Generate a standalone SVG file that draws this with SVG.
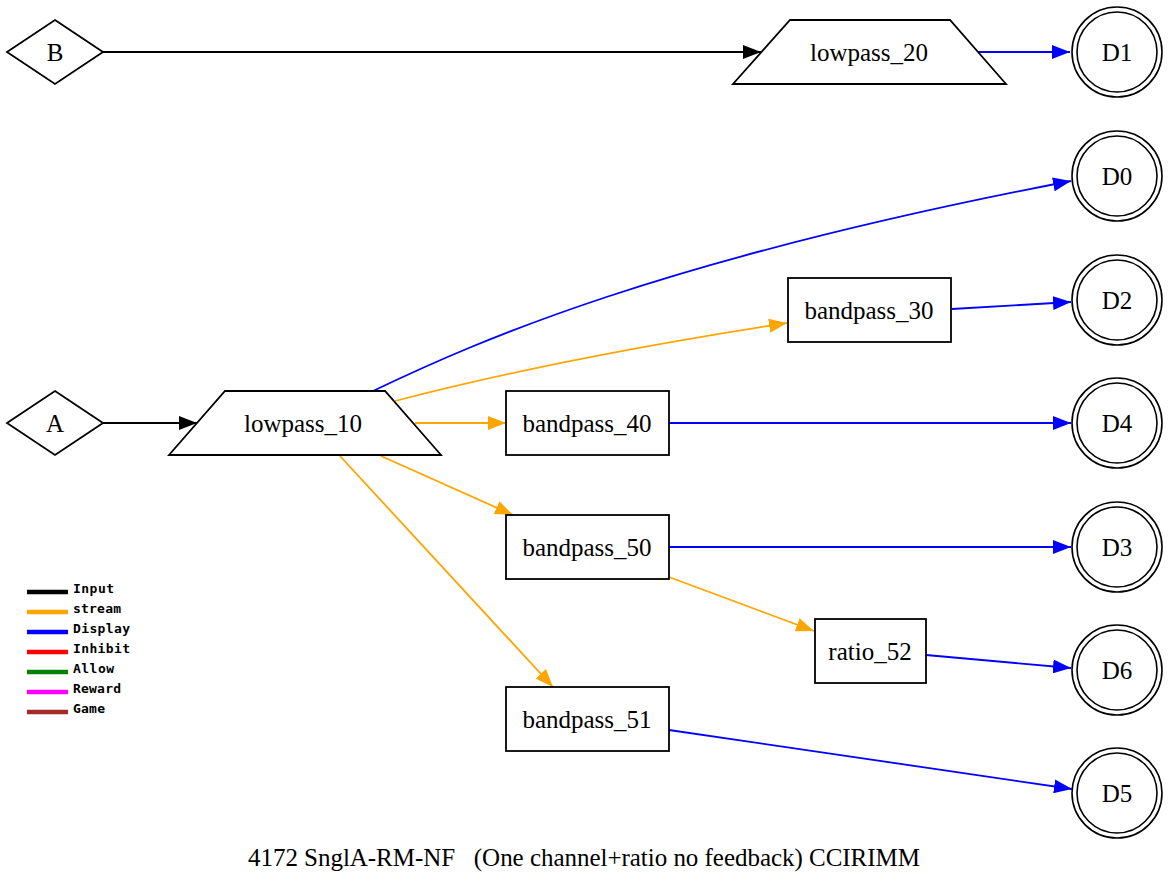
<svg xmlns="http://www.w3.org/2000/svg" width="1170" height="888" viewBox="0 0 1170 888">
<style>
.n{fill:#fff;stroke:#000;stroke-width:1.8}
.c{fill:none;stroke:#000;stroke-width:1.6}
.t{font-family:"Liberation Serif","Times New Roman",serif;font-size:25px;fill:#000;text-anchor:middle;dominant-baseline:central}
.e{fill:none;stroke-width:1.8}
.k{stroke:#000}.o{stroke:#FFA500}.b{stroke:#0000FF}
.lg{stroke-width:4.5}
.lt{font-family:"DejaVu Sans Mono","Liberation Mono",monospace;font-weight:bold;font-size:13px;fill:#000}
</style>
<defs>
<marker id="ak" markerUnits="userSpaceOnUse" markerWidth="18" markerHeight="14" refX="18" refY="7" orient="auto"><path d="M0,0L18,7L0,14z" fill="#000"/></marker>
<marker id="ao" markerUnits="userSpaceOnUse" markerWidth="18" markerHeight="14" refX="18" refY="7" orient="auto"><path d="M0,0L18,7L0,14z" fill="#FFA500"/></marker>
<marker id="ab" markerUnits="userSpaceOnUse" markerWidth="18" markerHeight="14" refX="18" refY="7" orient="auto"><path d="M0,0L18,7L0,14z" fill="#0000FF"/></marker>
</defs>
<rect width="1170" height="888" fill="#fff"/>
<g id="connectors">
<path class="e k" d="M103,52L761,52" marker-end="url(#ak)"/>
<path class="e b" d="M978,52L1070,52" marker-end="url(#ab)"/>
<path class="e k" d="M103,423L197,423" marker-end="url(#ak)"/>
<path class="e b" d="M373,391C480,340 660,260 1071,181" marker-end="url(#ab)"/>
<path class="e o" d="M395,401Q560,358 787,323" marker-end="url(#ao)"/>
<path class="e o" d="M415,423L506,423" marker-end="url(#ao)"/>
<path class="e o" d="M381,456L513,515" marker-end="url(#ao)"/>
<path class="e o" d="M340,456L553,687" marker-end="url(#ao)"/>
<path class="e b" d="M952,309L1071,302" marker-end="url(#ab)"/>
<path class="e b" d="M669,423L1071,423" marker-end="url(#ab)"/>
<path class="e b" d="M669,547L1071,547" marker-end="url(#ab)"/>
<path class="e o" d="M669,577L814,631" marker-end="url(#ao)"/>
<path class="e b" d="M926,655L1071,668" marker-end="url(#ab)"/>
<path class="e b" d="M669,730L1072,789" marker-end="url(#ab)"/>
</g>
<g id="B"><polygon class="n" points="55,20 103,52 55,84 7,52"/><text class="t" x="55" y="52">B</text></g>
<g id="A"><polygon class="n" points="55,391 103,423 55,455 7,423"/><text class="t" x="55" y="423">A</text></g>
<g id="lowpass_20"><polygon class="n" points="790,20 950,20 1006,84 733,84"/><text class="t" x="869" y="52">lowpass_20</text></g>
<g id="lowpass_10"><polygon class="n" points="225,391 385,391 441,455 169,455"/><text class="t" x="303" y="423">lowpass_10</text></g>
<g id="bandpass_30"><rect class="n" x="788" y="278" width="163" height="64"/><text class="t" x="869" y="310">bandpass_30</text></g>
<g id="bandpass_40"><rect class="n" x="506" y="391" width="163" height="64"/><text class="t" x="587" y="423">bandpass_40</text></g>
<g id="bandpass_50"><rect class="n" x="506" y="515" width="163" height="64"/><text class="t" x="587" y="547">bandpass_50</text></g>
<g id="bandpass_51"><rect class="n" x="506" y="687" width="163" height="64"/><text class="t" x="587" y="719">bandpass_51</text></g>
<g id="ratio_52"><rect class="n" x="815" y="619" width="111" height="64"/><text class="t" x="870" y="651">ratio_52</text></g>
<g id="D1"><circle class="c" cx="1117" cy="52" r="45"/><circle class="c" cx="1117" cy="52" r="40"/><text class="t" x="1117" y="52">D1</text></g>
<g id="D0"><circle class="c" cx="1117" cy="176" r="45"/><circle class="c" cx="1117" cy="176" r="40"/><text class="t" x="1117" y="176">D0</text></g>
<g id="D2"><circle class="c" cx="1117" cy="300" r="45"/><circle class="c" cx="1117" cy="300" r="40"/><text class="t" x="1117" y="300">D2</text></g>
<g id="D4"><circle class="c" cx="1117" cy="423" r="45"/><circle class="c" cx="1117" cy="423" r="40"/><text class="t" x="1117" y="423">D4</text></g>
<g id="D3"><circle class="c" cx="1117" cy="547" r="45"/><circle class="c" cx="1117" cy="547" r="40"/><text class="t" x="1117" y="547">D3</text></g>
<g id="D6"><circle class="c" cx="1117" cy="670" r="45"/><circle class="c" cx="1117" cy="670" r="40"/><text class="t" x="1117" y="670">D6</text></g>
<g id="D5"><circle class="c" cx="1117" cy="793" r="45"/><circle class="c" cx="1117" cy="793" r="40"/><text class="t" x="1117" y="793">D5</text></g>
<g id="legend">
<line class="lg" x1="27" y1="592" x2="68" y2="592" stroke="#000"/>
<line class="lg" x1="27" y1="612" x2="68" y2="612" stroke="#FFA500"/>
<line class="lg" x1="27" y1="632" x2="68" y2="632" stroke="#0000FF"/>
<line class="lg" x1="27" y1="652" x2="68" y2="652" stroke="#FF0000"/>
<line class="lg" x1="27" y1="672" x2="68" y2="672" stroke="#008000"/>
<line class="lg" x1="27" y1="692" x2="68" y2="692" stroke="#FF00FF"/>
<line class="lg" x1="27" y1="712" x2="68" y2="712" stroke="#A52A2A"/>
<text class="lt" x="73" y="593" textLength="41">Input</text>
<text class="lt" x="73" y="613" textLength="48">stream</text>
<text class="lt" x="73" y="633" textLength="57">Display</text>
<text class="lt" x="73" y="653" textLength="57">Inhibit</text>
<text class="lt" x="73" y="673" textLength="41">Allow</text>
<text class="lt" x="73" y="693" textLength="48">Reward</text>
<text class="lt" x="73" y="713" textLength="32">Game</text>
</g>
<text x="248" y="866" xml:space="preserve" font-family="Liberation Serif,Times New Roman,serif" font-size="25" textLength="672">4172 SnglA-RM-NF   (One channel+ratio no feedback) CCIRIMM</text>
</svg>
